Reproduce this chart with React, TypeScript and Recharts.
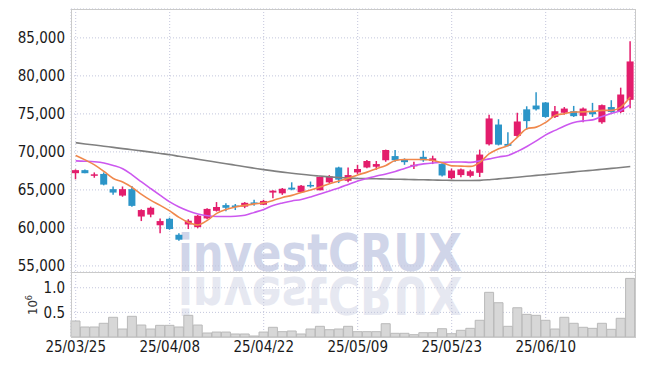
import { ComposedChart, Bar, Line, XAxis, YAxis, CartesianGrid, Label } from 'recharts';

const dates = [
  '25/03/25', '25/03/26', '25/03/27', '25/03/28', '25/03/31', '25/04/01', '25/04/02', '25/04/03', '25/04/04', '25/04/07',
  '25/04/08', '25/04/09', '25/04/10', '25/04/11', '25/04/14', '25/04/15', '25/04/16', '25/04/17', '25/04/18', '25/04/21',
  '25/04/22', '25/04/23', '25/04/24', '25/04/25', '25/04/28', '25/04/29', '25/04/30', '25/05/02', '25/05/07', '25/05/08',
  '25/05/09', '25/05/12', '25/05/13', '25/05/14', '25/05/15', '25/05/16', '25/05/19', '25/05/20', '25/05/21', '25/05/22',
  '25/05/23', '25/05/26', '25/05/27', '25/05/28', '25/05/29', '25/05/30', '25/06/02', '25/06/04', '25/06/05', '25/06/09',
  '25/06/10', '25/06/11', '25/06/12', '25/06/13', '25/06/16', '25/06/17', '25/06/18', '25/06/19', '25/06/20', '25/06/23',
];

const open = [
  67200, 67600, 66950, 67100, 65100, 64250, 65100, 61500, 61750, 60350,
  61200, 59100, 60450, 60100, 61250, 62250, 63000, 62950, 62800, 63350,
  63050, 64650, 64550, 65300, 64700, 65650, 64950, 66000, 67950, 66200,
  67300, 67950, 68050, 68900, 69450, 69000, 68100, 69350, 68800, 68400,
  66550, 66950, 66850, 67250, 71000, 73600, 71050, 72100, 75600, 76100,
  76500, 74600, 75150, 75350, 74750, 75250, 73900, 75900, 75250, 76850,
];
const high = [
  67700, 67700, 67300, 67300, 65450, 65450, 65500, 62450, 62800, 61250,
  61350, 59300, 61150, 61700, 62600, 63400, 63250, 63150, 63400, 63700,
  63700, 64950, 65250, 66000, 65650, 66100, 66750, 66950, 68050, 67950,
  68300, 68950, 68800, 70300, 70250, 69150, 68700, 70150, 69500, 68500,
  67800, 67800, 67650, 70300, 74900, 74300, 72600, 75150, 76000, 77850,
  76550, 76050, 75900, 76050, 75850, 76450, 76250, 76800, 78450, 84550,
];
const low = [
  66400, 67200, 66600, 65600, 64350, 64100, 62800, 60900, 61400, 59300,
  59750, 58300, 59850, 59950, 61150, 62150, 62200, 62350, 62600, 62900,
  63000, 63900, 64350, 64950, 64600, 65300, 64950, 65900, 65900, 66000,
  67100, 67850, 67650, 68700, 68700, 68300, 67750, 68700, 68400, 66750,
  66400, 66650, 66650, 66700, 70850, 70850, 70700, 71950, 72950, 75450,
  74500, 74450, 74900, 74600, 73900, 74600, 73700, 75150, 75100, 75750,
];
const close = [
  67600, 67200, 67050, 65700, 64650, 65100, 62900, 62350, 62650, 60900,
  59850, 58450, 60950, 61600, 62500, 62750, 62650, 62800, 63300, 63150,
  63550, 64900, 65150, 65050, 65550, 65550, 66700, 66800, 66350, 66950,
  67750, 68800, 68400, 70250, 68900, 68650, 68300, 68900, 69150, 66900,
  67550, 67700, 67450, 69650, 74400, 70950, 70800, 74000, 74050, 75600,
  74600, 75350, 75700, 74700, 75700, 74950, 76150, 75250, 77550, 81900,
];

const ma5 = [
  69540, 68950, 68290, 67430, 66510, 66050, 65330, 64410, 63620, 62960,
  62240, 61380, 60720, 60390, 60990, 61910, 62430, 62760, 62960, 63160,
  63290, 63620, 64010, 64280, 64670, 65000, 65390, 65820, 66180, 66550,
  66970, 67340, 67790, 68220, 68880, 69010, 69010, 69010, 68880, 68580,
  68160, 68130, 68090, 68620, 69760, 70420, 70860, 71950, 73050, 73260,
  73880, 74800, 75030, 75240, 75260, 75330, 75460, 75460, 75900, 77210,
];
const ma20 = [
  68820, 68780, 68710, 68550, 68220, 67790, 66970, 66050, 65160, 64280,
  63420, 62760, 62240, 61840, 61600, 61510, 61510, 61540, 61670, 62040,
  62430, 62960, 63290, 63550, 63750, 64080, 64470, 64870, 65260, 65720,
  66180, 66510, 66840, 67100, 67430, 67830, 68220, 68420, 68550, 68620,
  68680, 68680, 68620, 68820, 69080, 69340, 69540, 70070, 70720, 71450,
  72240, 72830, 73420, 73880, 74080, 74210, 74670, 75070, 75460, 76210,
];
const ma60 = [
  71210, 71050, 70910, 70750, 70590, 70430, 70290, 70130, 69970, 69800,
  69630, 69430, 69240, 69040, 68840, 68640, 68450, 68250, 68050, 67860,
  67670, 67500, 67340, 67200, 67050, 66920, 66820, 66720, 66640, 66580,
  66510, 66490, 66460, 66430, 66410, 66380, 66350, 66330, 66300, 66280,
  66250, 66240, 66240, 66260, 66340, 66450, 66550, 66670, 66790, 66910,
  67010, 67130, 67250, 67370, 67490, 67590, 67710, 67830, 67950, 68070,
];

// volume in millions of shares
const volume = [
  0.325, 0.203, 0.203, 0.278, 0.4, 0.162, 0.42, 0.243, 0.162, 0.237,
  0.237, 0.203, 0.44, 0.243, 0.081, 0.1, 0.1, 0.061, 0.061, 0.02,
  0.1, 0.197, 0.108, 0.122, 0.061, 0.162, 0.217, 0.148, 0.162, 0.217,
  0.108, 0.108, 0.108, 0.27, 0.075, 0.075, 0.047, 0.087, 0.087, 0.168,
  0.067, 0.136, 0.176, 0.339, 0.907, 0.696, 0.217, 0.594, 0.46, 0.44,
  0.339, 0.162, 0.4, 0.278, 0.197, 0.176, 0.278, 0.156, 0.38, 1.19,
];

const dateTicks = ['25/03/25', '25/04/08', '25/04/22', '25/05/09', '25/05/23', '25/06/10'];
const priceTicks = [55000, 60000, 65000, 70000, 75000, 80000, 85000];
const volumeTicks = [0.5, 1.0];

const UP = '#e31d6c';
const DOWN = '#2c95c8';
const FONT = "'DejaVu Sans Condensed', 'DejaVu Sans', sans-serif";

const data = dates.map((date, i) => ({
  date,
  open: open[i],
  high: high[i],
  low: low[i],
  close: close[i],
  ma5: ma5[i],
  ma20: ma20[i],
  ma60: ma60[i],
  volume: volume[i],
}));

const Candle = (props: any) => {
  const { x, y, width, height, payload } = props;
  if (!payload) return null;
  const top = Math.min(y, y + height);
  const h = Math.abs(height);
  const k = h / (payload.high - payload.low);
  const yOpen = top + (payload.high - payload.open) * k;
  const yClose = top + (payload.high - payload.close) * k;
  const color = payload.close >= payload.open ? UP : DOWN;
  const cx = x + width / 2;
  const bodyTop = Math.min(yOpen, yClose);
  const bodyH = Math.max(Math.abs(yOpen - yClose), 1.5);
  return (
    <g>
      <line x1={cx} x2={cx} y1={top} y2={top + h} stroke={color} strokeWidth={1.5} />
      <rect x={x} y={bodyTop} width={width} height={bodyH} fill={color} />
    </g>
  );
};

const tickStyle = { fontFamily: FONT, fontSize: 15, fill: '#1a1a1a' };

export default function App() {
  return (
    <div style={{ position: 'absolute', left: 0, top: 0, width: 645, height: 366, background: '#fff' }}>
      {/* watermark + reflection */}
      <svg width={645} height={366} style={{ position: 'absolute', left: 0, top: 0 }}>
        <text x={178} y={271} fontFamily="'DejaVu Sans', sans-serif" fontWeight={700} fontSize={52}
          fill="#d0d5e9" textLength={284} lengthAdjust="spacingAndGlyphs">investCRUX</text>
        <text x={178} y={271} transform="translate(0,548) scale(1,-1)" fontFamily="'DejaVu Sans', sans-serif"
          fontWeight={700} fontSize={52} fill="#e6e8f1" textLength={284} lengthAdjust="spacingAndGlyphs">investCRUX</text>
      </svg>

      <div style={{ position: 'absolute', left: 0, top: 0 }}>
        <ComposedChart width={645} height={282} data={data} margin={{ top: 9, right: 10, bottom: 10, left: 0 }}>
          <CartesianGrid stroke="#c3c6dc" strokeDasharray="1 2" />
          <XAxis dataKey="date" hide ticks={dateTicks} interval={0} />
          <YAxis
            domain={[54200, 88800]}
            ticks={priceTicks}
            interval={0}
            width={71}
            tickLine={false}
            axisLine={false}
            tickSize={4}
            tickMargin={2}
            tick={tickStyle}
            tickFormatter={(v: number) => v.toLocaleString('en-US')}
          />
          <Bar dataKey={(d: any) => [d.low, d.high]} barSize={7} shape={Candle} isAnimationActive={false} />
          <Line type="monotone" dataKey="ma60" stroke="#808080" strokeWidth={1.6} dot={false} isAnimationActive={false} />
          <Line type="monotone" dataKey="ma20" stroke="#cc58ef" strokeWidth={1.6} dot={false} isAnimationActive={false} />
          <Line type="monotone" dataKey="ma5" stroke="#f0884c" strokeWidth={1.6} dot={false} isAnimationActive={false} />
        </ComposedChart>
      </div>

      <div style={{ position: 'absolute', left: 0, top: 272 }}>
        <ComposedChart width={645} height={94} data={data} margin={{ top: 0, right: 10, bottom: 0, left: 0 }} barCategoryGap={0}>
          <CartesianGrid stroke="#c3c6dc" strokeDasharray="1 2" />
          <XAxis
            dataKey="date"
            ticks={dateTicks}
            interval={0}
            height={29}
            tickLine={false}
            axisLine={false}
            tickSize={2}
            tickMargin={2}
            tick={tickStyle}
          />
          <YAxis
            domain={[0, 1.32]}
            ticks={volumeTicks}
            interval={0}
            width={71}
            tickLine={false}
            axisLine={false}
            tickSize={4}
            tickMargin={2}
            tick={tickStyle}
            tickFormatter={(v: number) => v.toFixed(1)}
          >
            <Label
              content={() => (
                <text transform="translate(37,33) rotate(-90)" textAnchor="middle" fontFamily={FONT} fontSize={13} fill="#333">
                  10<tspan dy={-5} fontSize={9}>6</tspan>
                </text>
              )}
            />
          </YAxis>
          <Bar dataKey="volume" fill="#d7d7d7" stroke="#b9b9b9" strokeWidth={1} isAnimationActive={false} />
        </ComposedChart>
      </div>

      {/* frame */}
      <div style={{ position: 'absolute', left: 71, top: 9, width: 565, height: 329, border: '1px solid #cacaca', boxSizing: 'border-box', pointerEvents: 'none' }} />
      <div style={{ position: 'absolute', left: 71, top: 272, width: 565, height: 1, background: '#cacaca', pointerEvents: 'none' }} />
    </div>
  );
}
